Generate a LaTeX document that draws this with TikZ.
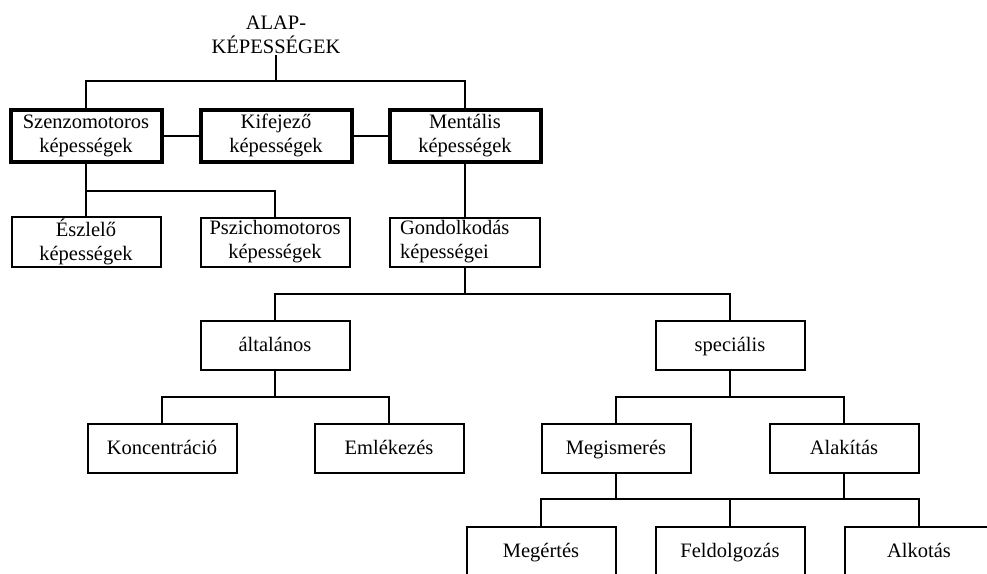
\documentclass[tikz,border=0pt]{standalone}
\usepackage{fontspec}
\setmainfont{Liberation Serif}
\usepackage{tikz}

\begin{document}
\begin{tikzpicture}[x=1pt,y=-1pt,line width=2pt,
  font=\fontsize{20.5}{24}\selectfont,
  root node/.style={align=center,inner sep=0pt},
  main node/.style={rectangle,draw,line width=4pt,align=center,
                   minimum width=151pt,minimum height=52pt,inner sep=2pt},
  sub node/.style={rectangle,draw,line width=2pt,align=center,
                   minimum width=149pt,minimum height=49pt,inner sep=2pt},
  leaf node/.style={sub node,text height=14.5pt,text depth=3.5pt}]

  \clip (0,0) rectangle (987,573);

  \node[root node] (alap) at (276,35) {ALAP-\\KÉPESSÉGEK};

  \node[main node] (szenzo) at (86,135.5)  {Szenzomotoros\\képességek};
  \node[main node] (kifej)  at (276,135.5) {Kifejező\\képességek};
  \node[main node] (mental) at (465,135.5) {Mentális\\képességek};

  \node[sub node] (eszlel)  at (86,242)  {Észlelő\\képességek};
  \node[sub node] (pszicho) at (275,242) {Pszichomotoros\\képességek};
  \node[sub node,text width=130pt,align=left,inner xsep=10pt]
       (gondolk) at (465,242) {Gondolkodás\\képességei};

  \node[leaf node] (altal) at (275,345.5) {általános};
  \node[leaf node] (spec)  at (730,345.5) {speciális};

  \node[leaf node] (konc)   at (162,448.5) {Koncentráció};
  \node[leaf node] (emlek)  at (389,448.5) {Emlékezés};
  \node[leaf node] (megism) at (616,448.5) {Megismerés};
  \node[leaf node] (alakit) at (844,448.5) {Alakítás};

  \node[leaf node] (megert)  at (541,551.5) {Megértés};
  \node[leaf node] (feldolg) at (730,551.5) {Feldolgozás};
  \node[leaf node] (alkot)   at (919,551.5) {Alkotás};

  % branching points
  \coordinate (j1) at (276,81);
  \coordinate (j2) at (86,191);
  \coordinate (j3) at (465,294);
  \coordinate (j4) at (275,397);
  \coordinate (j5) at (730,397);
  \coordinate (j6) at (616,499);

  % root to main abilities
  \draw (alap) -- (j1);
  \draw (szenzo.north) |- (j1) -| (mental.north);
  \draw (szenzo) -- (kifej);
  \draw (kifej) -- (mental);

  % sensorimotor branch
  \draw (szenzo) -- (eszlel);
  \draw (j2) -| (pszicho.north);

  % mental branch
  \draw (mental) -- (gondolk);
  \draw (gondolk) -- (j3);
  \draw (altal.north) |- (j3) -| (spec.north);

  \draw (altal) -- (j4);
  \draw (konc.north) |- (j4) -| (emlek.north);

  \draw (spec) -- (j5);
  \draw (megism.north) |- (j5) -| (alakit.north);

  \draw (megism) -- (j6);
  \draw (megert.north) |- (j6) -| (alkot.north);
  \draw (alakit.south) |- (j6);
  \draw (feldolg.north) |- (j6);

\end{tikzpicture}
\end{document}
